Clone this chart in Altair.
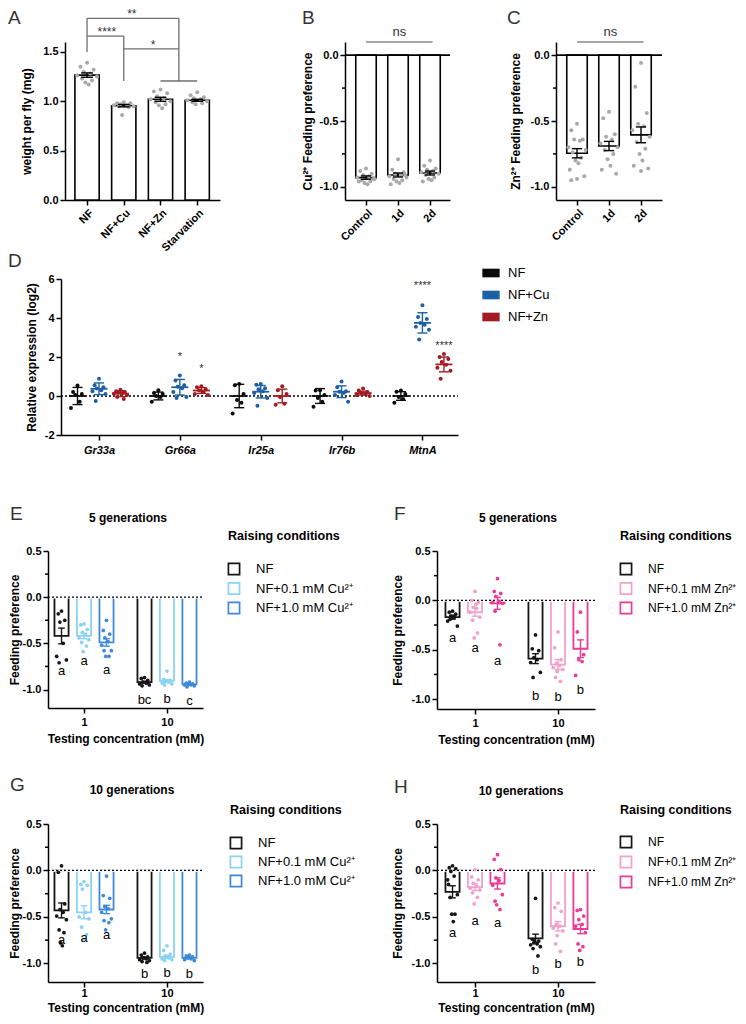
import json
import altair as alt
import pandas as pd

FONT = "Liberation Sans"
MINUS = "\u2212"
VIEW_W, VIEW_H = 730, 1008

# ======================= DATA =======================
# Panel A
A_groups = ["NF", "NF+Cu", "NF+Zn", "Starvation"]
A_means = [1.265, 0.955, 1.02, 1.01]
A_sems = [0.022, 0.012, 0.02, 0.01]
A_points = [
    [1.39, 1.35, 1.32, 1.30, 1.28, 1.26, 1.25, 1.23, 1.21, 1.19, 1.17],
    [0.99, 0.98, 0.98, 0.97, 0.96, 0.96, 0.95, 0.95, 0.94, 0.86],
    [1.12, 1.10, 1.08, 1.05, 1.03, 1.02, 1.00, 0.99, 0.97, 0.96, 0.93],
    [1.09, 1.06, 1.04, 1.03, 1.02, 1.01, 1.00, 0.99, 0.98, 0.97],
]
A_brackets_x1 = [0, 0, 2.5, 0, 1, 1, 2]
A_brackets_y1 = [1.84, 1.84, 1.84, 1.66, 1.66, 1.53, 1.205]
A_brackets_x2 = [2.5, 0, 2.5, 1, 1, 2.5, 3]
A_brackets_y2 = [1.84, 1.50, 1.205, 1.66, 1.205, 1.53, 1.205]
A_star_text = ["**", "****", "*"]
A_star_x = [1.22, 0.54, 1.8]
A_star_y = [1.84, 1.66, 1.53]

# Panels B, C
BC_groups = ["Control", "1d", "2d"]
B_means = [-0.93, -0.91, -0.895]
B_sems = [0.013, 0.015, 0.015]
B_points = [
    [-0.86, -0.88, -0.90, -0.91, -0.92, -0.93, -0.94, -0.95, -0.96, -0.97, -0.98, -0.96, -0.94],
    [-0.79, -0.87, -0.89, -0.90, -0.91, -0.92, -0.93, -0.94, -0.95, -0.96, -0.97, -0.98, -0.91],
    [-0.80, -0.84, -0.86, -0.87, -0.88, -0.89, -0.90, -0.91, -0.93, -0.94, -0.95, -0.96],
]
C_means = [-0.745, -0.69, -0.605]
C_sems = [0.035, 0.035, 0.06]
C_points = [
    [-0.52, -0.57, -0.64, -0.64, -0.65, -0.70, -0.72, -0.74, -0.78, -0.80, -0.82, -0.87, -0.92, -0.94, -0.95],
    [-0.43, -0.48, -0.60, -0.62, -0.64, -0.67, -0.70, -0.72, -0.75, -0.79, -0.84, -0.87, -0.90],
    [-0.06, -0.24, -0.44, -0.52, -0.54, -0.57, -0.62, -0.66, -0.71, -0.75, -0.80, -0.84, -0.86, -0.88],
]

# Panel D
D_genes = ["Gr33a", "Gr66a", "Ir25a", "Ir76b", "MtnA"]
D_conds = ["NF", "NF+Cu", "NF+Zn"]
D_colors = ["#0b0b0b", "#1c61a6", "#a21d23"]
D_means = [[0.0, 0.37, 0.12], [0.0, 0.45, 0.28], [0.0, 0.22, 0.0], [0.0, 0.22, 0.15], [0.0, 3.75, 1.62]]
D_sds = [[0.44, 0.30, 0.15], [0.20, 0.40, 0.15], [0.60, 0.32, 0.35], [0.38, 0.30, 0.10], [0.22, 0.52, 0.38]]
D_points = [
    [[0.54, 0.20, 0.10, 0.05, -0.30, -0.62], [0.88, 0.55, 0.45, 0.38, 0.30, 0.25, 0.10, -0.25],
     [0.32, 0.25, 0.20, 0.18, 0.15, 0.12, 0.05, -0.05, -0.15]],
    [[0.30, 0.15, 0.10, 0.0, -0.05, -0.30], [1.05, 0.80, 0.55, 0.48, 0.40, 0.20, -0.05, -0.10],
     [0.50, 0.45, 0.35, 0.28, 0.20, 0.10, 0.05]],
    [[0.62, 0.55, 0.10, -0.20, -0.35, -0.90], [0.62, 0.58, 0.40, 0.35, 0.25, 0.15, -0.10, -0.50],
     [0.50, 0.30, 0.10, -0.05, -0.40, -0.45]],
    [[0.30, 0.28, 0.05, -0.10, -0.30, -0.55], [0.75, 0.45, 0.25, 0.22, 0.15, 0.05, -0.30],
     [0.38, 0.28, 0.20, 0.15, 0.10, 0.05, 0.0]],
    [[0.28, 0.22, 0.10, -0.05, -0.15, -0.35], [4.65, 4.05, 3.95, 3.75, 3.65, 3.55, 3.40, 2.90],
     [2.15, 2.00, 1.90, 1.75, 1.60, 1.45, 1.30, 0.88]],
]
D_star_text = ["*", "*", "****", "****"]
D_star_gene = [1, 1, 4, 4]
D_star_cond = [1, 2, 1, 2]
D_star_y = [1.87, 1.23, 5.48, 2.43]

# Panels E-H
conc_labels = ["1", "10"]
Cu_conds = ["NF", "NF+0.1 mM Cu\u00b2\u207a", "NF+1.0 mM Cu\u00b2\u207a"]
Cu_colors = ["#151515", "#8ad3f4", "#3f8ad6"]
Zn_conds = ["NF", "NF+0.1 mM Zn\u00b2\u207a", "NF+1.0 mM Zn\u00b2\u207a"]
Zn_colors = ["#151515", "#f2a2ca", "#ec3a95"]

E_means = [-0.42, -0.42, -0.49, -0.92, -0.905, -0.945]
E_sems = [0.085, 0.03, 0.04, 0.01, 0.01, 0.006]
E_points = [
    [-0.15, -0.18, -0.25, -0.27, -0.50, -0.64, -0.68, -0.71],
    [-0.29, -0.30, -0.35, -0.38, -0.41, -0.44, -0.46, -0.49, -0.53, -0.59],
    [-0.25, -0.36, -0.40, -0.44, -0.48, -0.52, -0.58, -0.58, -0.64, -0.64],
    [-0.87, -0.88, -0.90, -0.92, -0.93, -0.94, -0.95, -0.96, -0.93],
    [-0.80, -0.89, -0.90, -0.91, -0.92, -0.93, -0.94, -0.95],
    [-0.92, -0.93, -0.94, -0.94, -0.95, -0.95, -0.96, -0.97],
]
E_letters = ["a", "a", "a", "bc", "b", "c"]
E_letter_y = [-0.80, -0.69, -0.79, -1.11, -1.10, -1.12]

F_means = [-0.17, -0.12, -0.03, -0.59, -0.65, -0.49]
F_sems = [0.02, 0.04, 0.06, 0.05, 0.05, 0.09]
F_points = [
    [-0.11, -0.12, -0.14, -0.16, -0.17, -0.21, -0.26, -0.19],
    [0.09, 0.00, -0.02, -0.07, -0.08, -0.12, -0.17, -0.20, -0.33, -0.38, -0.04],
    [0.22, 0.09, 0.07, 0.04, -0.01, -0.02, -0.03, -0.11, -0.45],
    [-0.35, -0.49, -0.51, -0.58, -0.60, -0.63, -0.73, -0.78],
    [-0.32, -0.48, -0.60, -0.64, -0.66, -0.68, -0.70, -0.78, -0.82, -0.72],
    [-0.12, -0.32, -0.55, -0.60, -0.62, -0.76],
]
F_letters = ["a", "a", "a", "b", "b", "b"]
F_letter_y = [-0.38, -0.48, -0.61, -0.97, -0.98, -0.91]

G_means = [-0.43, -0.45, -0.42, -0.94, -0.93, -0.94]
G_sems = [0.08, 0.07, 0.045, 0.01, 0.015, 0.01]
G_points = [
    [0.05, -0.02, -0.36, -0.42, -0.45, -0.49, -0.53, -0.64, -0.67, -0.78, -0.81],
    [-0.12, -0.15, -0.16, -0.20, -0.45, -0.50, -0.52, -0.61, -0.69, -0.74],
    [-0.06, -0.27, -0.30, -0.39, -0.41, -0.45, -0.52, -0.54, -0.56, -0.64],
    [-0.89, -0.91, -0.93, -0.94, -0.95, -0.96, -0.97, -0.98, -0.99, -0.94],
    [-0.81, -0.86, -0.90, -0.92, -0.94, -0.95, -0.96, -0.97],
    [-0.91, -0.92, -0.93, -0.94, -0.95, -0.96, -0.97, -0.93],
]
G_letters = ["a", "a", "a", "b", "b", "b"]
G_letter_y = [-0.75, -0.73, -0.69, -1.11, -1.10, -1.11]

H_means = [-0.23, -0.18, -0.14, -0.73, -0.60, -0.63]
H_sems = [0.065, 0.035, 0.06, 0.045, 0.05, 0.05]
H_points = [
    [0.05, 0.03, 0.02, -0.01, -0.06, -0.10, -0.26, -0.29, -0.47, -0.47, -0.55, -0.15],
    [0.01, -0.07, -0.10, -0.14, -0.17, -0.19, -0.21, -0.24, -0.29, -0.36],
    [0.17, 0.12, 0.01, -0.08, -0.11, -0.16, -0.26, -0.33, -0.42, -0.37],
    [-0.30, -0.74, -0.76, -0.78, -0.79, -0.80, -0.82, -0.84, -0.92, -0.76],
    [-0.35, -0.40, -0.44, -0.58, -0.60, -0.62, -0.65, -0.79, -0.87, -0.70],
    [-0.42, -0.43, -0.49, -0.53, -0.58, -0.60, -0.67, -0.79, -0.82, -0.86],
]
H_letters = ["a", "a", "a", "b", "b", "b"]
H_letter_y = [-0.67, -0.54, -0.57, -1.07, -1.01, -0.99]

# ======================= HELPERS =======================
ONE = pd.DataFrame({"k": [0]})
JIT = [0.0, -0.6, 0.6, -0.3, 0.3, -0.9, 0.9, -0.45, 0.45, -0.15, 0.15, -0.75, 0.75]


def num_label(fmt):
    return f"replace(format(datum.value, '{fmt}'), '{MINUS}', '-')"


def cat_label(labels):
    return f"{json.dumps(labels, ensure_ascii=False)}[datum.value]"


def make_enc(xdom, xrng, xaxis_kw, ydom, yrng, yaxis_kw):
    """Each panel has its own x/y scales; pixel ranges place the panel inside the single view."""
    xaxis = alt.Axis(orient="bottom", offset=-(VIEW_H - yrng[0]), **xaxis_kw)
    yaxis = alt.Axis(orient="left", offset=-xrng[0], **yaxis_kw)

    def X(f):
        return alt.X(f"{f}:Q", scale=alt.Scale(domain=xdom, range=xrng, nice=False, zero=False), axis=xaxis)

    def Y(f):
        return alt.Y(f"{f}:Q", scale=alt.Scale(domain=ydom, range=yrng, nice=False, zero=False), axis=yaxis)
    return X, Y


def summary_df(centers, means, errs, hw, cw, conds=None):
    df = pd.DataFrame({"x": centers, "mean": means, "err": errs})
    df["lo"] = df["mean"] - df["err"]
    df["hi"] = df["mean"] + df["err"]
    df["xl"] = df["x"] - hw
    df["xr"] = df["x"] + hw
    df["cl"] = df["x"] - cw
    df["cr"] = df["x"] + cw
    df["zero"] = 0.0
    if conds is not None:
        df["cond"] = conds
    return df


def points_df(centers, groups, spread, conds=None):
    rows = []
    for k, (cx, vals) in enumerate(zip(centers, groups)):
        for i, v in enumerate(vals):
            r = {"x": cx + JIT[i % len(JIT)] * spread, "v": v}
            if conds is not None:
                r["cond"] = conds[k]
            rows.append(r)
    return pd.DataFrame(rows)


def ptext(text, x, y, size=12, weight="normal", align="left", baseline="top", color="black"):
    return alt.Chart(ONE).mark_text(
        text=text, align=align, baseline=baseline, fontSize=size, fontWeight=weight,
        color=color, font=FONT
    ).encode(x=alt.value(x), y=alt.value(y))


def letter(t, x, y):
    return ptext(t, x, y, size=19, color="#333333")


def minor_ticks(Y, x0, vals):
    return alt.Chart(pd.DataFrame({"m": vals})).mark_rule(color="black", strokeWidth=1.5).encode(
        y=Y("m"), x=alt.value(x0 - 3), x2=alt.value(x0))


def zero_line(Y, x0, x1, dotted):
    d = pd.DataFrame({"z": [0.0]})
    if dotted:
        w = alt.Chart(d).mark_rule(color="white", strokeWidth=2.5).encode(
            y=Y("z"), x=alt.value(x0 + 1), x2=alt.value(x1))
        k = alt.Chart(d).mark_rule(color="black", strokeWidth=1.3, strokeDash=[2, 2]).encode(
            y=Y("z"), x=alt.value(x0), x2=alt.value(x1))
        return [w, k]
    return [alt.Chart(d).mark_rule(color="black", strokeWidth=1.6).encode(
        y=Y("z"), x=alt.value(x0), x2=alt.value(x1))]


def gray_bar_layers(X, Y, sdf, pdf):
    bars = alt.Chart(sdf).mark_bar(fill="white", stroke="black", strokeWidth=1.6).encode(
        x=X("xl"), x2="xr", y=Y("mean"), y2="zero")
    pts = alt.Chart(pdf).mark_circle(size=16, color="#a9a9a9", opacity=1).encode(x=X("x"), y=Y("v"))
    err = alt.Chart(sdf).mark_rule(color="black", strokeWidth=1.4).encode(x=X("x"), y=Y("lo"), y2="hi")
    c1 = alt.Chart(sdf).mark_rule(color="black", strokeWidth=1.4).encode(x=X("cl"), x2="cr", y=Y("hi"))
    c2 = alt.Chart(sdf).mark_rule(color="black", strokeWidth=1.4).encode(x=X("cl"), x2="cr", y=Y("lo"))
    return bars, [pts, err, c1, c2]


# ======================= PANEL A =======================
def panel_A():
    xr, yr = [57, 212], [191, 33]
    X, Y = make_enc([-0.6, 3.62], xr,
                    dict(values=list(range(len(A_groups))), labelExpr=cat_label(A_groups), labelAngle=-45,
                         title=None),
                    [0, 1.6], yr,
                    dict(values=[0.0, 0.5, 1.0, 1.5], labelExpr=num_label(".1f"), title="weight per fly (mg)",
                         titlePadding=9))
    sdf = summary_df(list(range(4)), A_means, A_sems, 0.33, 0.16)
    pdf = points_df(list(range(4)), A_points, 0.3)
    bars, rest = gray_bar_layers(X, Y, sdf, pdf)
    bdf = pd.DataFrame({"bx1": A_brackets_x1, "by1": A_brackets_y1, "bx2": A_brackets_x2, "by2": A_brackets_y2})
    br = alt.Chart(bdf).mark_rule(color="#6f6f6f", strokeWidth=1.3).encode(
        x=X("bx1"), x2="bx2", y=Y("by1"), y2="by2")
    sdf2 = pd.DataFrame({"st": A_star_text, "sx": A_star_x, "sy": A_star_y})
    st = alt.Chart(sdf2).mark_text(fontSize=12, color="#333333", align="center", baseline="alphabetic",
                                   font=FONT).encode(x=X("sx"), y=Y("sy"), text="st:N")
    return alt.layer(bars, *rest, br, st, letter("A", 0, 0))


# ======================= PANELS B, C =======================
def panel_pref(tag, lx, ytitle, ytp, means, sems, points, xr, xdom):
    yr = [191, 33]
    X, Y = make_enc(xdom, xr,
                    dict(values=[0, 1, 2], labelExpr=cat_label(BC_groups), labelAngle=-45, title=None),
                    [-1.1, 0.1], yr,
                    dict(values=[0.0, -0.5, -1.0], labelExpr=num_label(".1f"), title=ytitle, titlePadding=ytp))
    sdf = summary_df([0, 1, 2], means, sems, 0.32, 0.16)
    pdf = points_df([0, 1, 2], points, 0.3)
    bars, rest = gray_bar_layers(X, Y, sdf, pdf)
    ns = alt.Chart(pd.DataFrame({"a": [0.0], "b": [2.08], "y": [0.1]})).mark_rule(
        color="#8a8a8a", strokeWidth=1.5).encode(x=X("a"), x2="b", y=Y("y"))
    nst = alt.Chart(pd.DataFrame({"x": [1.04], "y": [0.145], "t": ["ns"]})).mark_text(
        fontSize=13, color="#333333", align="center", baseline="alphabetic", font=FONT).encode(
        x=X("x"), y=Y("y"), text="t:N")
    return alt.layer(bars, *zero_line(Y, xr[0], xr[1], False), *rest, ns, nst,
                     minor_ticks(Y, xr[0], [-0.25, -0.75]), letter(tag, lx, 0))


# ======================= PANEL D =======================
def panel_D():
    xr, yr = [53, 450], [426, 270]
    X, Y = make_enc([-0.47, 4.44], xr,
                    dict(values=list(range(len(D_genes))), labelExpr=cat_label(D_genes), labelAngle=0,
                         labelFontStyle="italic", title=None, labelPadding=4),
                    [-2, 6], yr,
                    dict(values=[-2, 0, 2, 4, 6], labelExpr=num_label("d"), title="Relative expression (log2)",
                         titlePadding=6))
    centers, conds, means, sds, pts = [], [], [], [], []
    for g in range(len(D_genes)):
        for c in range(len(D_conds)):
            centers.append(g + (c - 1) * 0.266)
            conds.append(D_conds[c])
            means.append(D_means[g][c])
            sds.append(D_sds[g][c])
            pts.append(D_points[g][c])
    sdf = summary_df(centers, means, sds, 0.105, 0.062, conds)
    pdf = points_df(centers, pts, 0.09, conds)
    cscale = alt.Scale(domain=D_conds, range=D_colors)
    col = alt.Color("cond:N", scale=cscale, legend=None)
    leg = alt.Legend(orient="none", legendX=474, legendY=255, title=None,
                     symbolType="M-1,-0.5H1V0.5H-1Z", symbolSize=300, symbolStrokeWidth=0,
                     labelFontSize=13, labelFontWeight="normal", labelOffset=8, rowPadding=6, padding=0)
    zl = alt.Chart(pd.DataFrame({"z": [0.0]})).mark_rule(color="black", strokeWidth=1.3, strokeDash=[2, 2]).encode(
        y=Y("z"), x=alt.value(xr[0]), x2=alt.value(xr[1]))
    p = alt.Chart(pdf).mark_circle(size=16, opacity=1).encode(
        x=X("x"), y=Y("v"), fill=alt.Fill("cond:N", scale=cscale, legend=leg))
    err = alt.Chart(sdf).mark_rule(strokeWidth=1.4).encode(x=X("x"), y=Y("lo"), y2="hi", color=col)
    c1 = alt.Chart(sdf).mark_rule(strokeWidth=1.4).encode(x=X("cl"), x2="cr", y=Y("hi"), color=col)
    c2 = alt.Chart(sdf).mark_rule(strokeWidth=1.4).encode(x=X("cl"), x2="cr", y=Y("lo"), color=col)
    mn = alt.Chart(sdf).mark_rule(strokeWidth=1.8).encode(x=X("xl"), x2="xr", y=Y("mean"), color=col)
    sx = [g + (c - 1) * 0.266 for g, c in zip(D_star_gene, D_star_cond)]
    st = alt.Chart(pd.DataFrame({"x": sx, "y": D_star_y, "t": D_star_text})).mark_text(
        fontSize=11, color="#333333", align="center", baseline="alphabetic", font=FONT).encode(
        x=X("x"), y=Y("y"), text="t:N")
    return alt.layer(zl, p, err, c1, c2, mn, st, letter("D", 0, 243))


# ======================= PANELS E-H =======================
def panel_gen(tag, lxy, title, txy, conds, colors, means, sems, points, letters, letter_y,
              ydom, xr, yr, xdom, ytp, xlp, xtp):
    X, Y = make_enc(xdom, xr,
                    dict(values=[0, 1], labelExpr=cat_label(conc_labels), labelAngle=0,
                         title="Testing concentration (mM)", labelPadding=xlp, titlePadding=xtp),
                    ydom, yr,
                    dict(values=[0.5, 0.0, -0.5, -1.0], labelExpr=num_label(".1f"), title="Feeding preference",
                         titlePadding=ytp))
    centers, cc = [], []
    for g in range(2):
        for c in range(3):
            centers.append(g + (c - 1) * 0.271)
            cc.append(conds[c])
    sdf = summary_df(centers, means, sems, 0.085, 0.04, cc)
    sdf["letter"] = letters
    sdf["ly"] = letter_y
    pdf = points_df(centers, points, 0.065, cc)
    cscale = alt.Scale(domain=conds, range=colors)
    col = alt.Color("cond:N", scale=cscale, legend=None)
    bars = alt.Chart(sdf).mark_bar(filled=False, strokeWidth=1.8).encode(
        x=X("xl"), x2="xr", y=Y("mean"), y2="zero", color=col)
    p = alt.Chart(pdf).mark_circle(size=14, opacity=1).encode(x=X("x"), y=Y("v"), color=col)
    err = alt.Chart(sdf).mark_rule(strokeWidth=1.4).encode(x=X("x"), y=Y("lo"), y2="hi", color=col)
    c1 = alt.Chart(sdf).mark_rule(strokeWidth=1.4).encode(x=X("cl"), x2="cr", y=Y("hi"), color=col)
    c2 = alt.Chart(sdf).mark_rule(strokeWidth=1.4).encode(x=X("cl"), x2="cr", y=Y("lo"), color=col)
    lt = alt.Chart(sdf).mark_text(fontSize=13, color="black", align="center", baseline="middle", font=FONT).encode(
        x=X("x"), y=Y("ly"), text="letter:N")
    return alt.layer(bars, *zero_line(Y, xr[0], xr[1], True), p, err, c1, c2, lt,
                     minor_ticks(Y, xr[0], [0.25, -0.25, -0.75]),
                     ptext(title, txy[0], txy[1], size=12, weight="bold", align="center", baseline="middle"),
                     letter(tag, lxy[0], lxy[1]))


def legend_block(title, conds, colors, sq_x, lab_x, rows_y, title_y, label_size):
    """Hollow-square key: entries placed by a point scale over the given pixel span."""
    df = pd.DataFrame({"cond": conds})
    cscale = alt.Scale(domain=conds, range=colors)
    yenc = alt.Y("cond:N", scale=alt.Scale(domain=conds, range=rows_y, padding=0), axis=None)
    sq = alt.Chart(df).mark_point(shape="square", filled=False, size=125, strokeWidth=1.7, opacity=1).encode(
        x=alt.value(sq_x), y=yenc, color=alt.Color("cond:N", scale=cscale, legend=None))
    tx = alt.Chart(df).mark_text(align="left", baseline="middle", fontSize=label_size, font=FONT,
                                 color="black").encode(x=alt.value(lab_x), y=yenc, text="cond:N")
    tt = ptext(title, sq_x - 6, title_y, size=12.5, weight="bold", baseline="middle")
    return alt.layer(sq, tx, tt)


A = panel_A()
B = panel_pref("B", 294, "Cu\u00b2\u207a Feeding preference", 5, B_means, B_sems, B_points, [337, 442],
               [-0.656, 2.625])
C = panel_pref("C", 499, "Zn\u00b2\u207a Feeding preference", 8, C_means, C_sems, C_points, [548, 654],
               [-0.656, 2.656])
D = panel_D()
E = panel_gen("E", (2, 496), "5 generations", (120, 509), Cu_conds, Cu_colors, E_means, E_sems, E_points,
              E_letters, E_letter_y, [-1.2, 0.5], [40, 195], [699, 542], [-0.434, 1.434], 1, 3, 6)
F = panel_gen("F", (386, 496), "5 generations", (510, 509), Zn_conds, Zn_colors, F_means, F_sems, F_points,
              F_letters, F_letter_y, [-1.1, 0.5], [429, 587], [700, 542], [-0.458, 1.446], 7, 3, 6)
G = panel_gen("G", (2, 767), "10 generations", (124, 781), Cu_conds, Cu_colors, G_means, G_sems, G_points,
              G_letters, G_letter_y, [-1.2, 0.5], [40, 195], [973, 815], [-0.434, 1.434], 1, 0, 4)
Hh = panel_gen("H", (386, 769), "10 generations", (513, 782), Zn_conds, Zn_colors, H_means, H_sems, H_points,
               H_letters, H_letter_y, [-1.2, 0.5], [429, 587], [973, 815], [-0.458, 1.446], 7, 0, 4)

LE = legend_block("Raising conditions", Cu_conds, Cu_colors, 226, 248, [560, 599], 527, 13)
LF = legend_block("Raising conditions", Zn_conds, Zn_colors, 618, 640, [560, 599], 527, 12)
LG = legend_block("Raising conditions", Cu_conds, Cu_colors, 228, 250, [834, 872], 801, 13)
LH = legend_block("Raising conditions", Zn_conds, Zn_colors, 618, 640, [833, 873], 801, 12)

chart = alt.layer(A, B, C, D, E, F, G, Hh, LE, LF, LG, LH).resolve_scale(
    x="independent", y="independent", color="independent", fill="independent"
).properties(width=VIEW_W, height=VIEW_H, padding=0)

chart = chart.configure(font=FONT).configure_view(stroke=None).configure_axis(
    labelFont=FONT, titleFont=FONT, labelFontSize=11, labelFontWeight="bold", titleFontSize=12,
    titleFontWeight="bold", labelColor="black", titleColor="black", domainColor="black", tickColor="black",
    domainWidth=1.5, tickWidth=1.5, tickSize=5, labelPadding=2, grid=False, labelFlush=False,
    labelOverlap=False
).configure_legend(labelFont=FONT, titleFont=FONT, labelColor="black", titleColor="black")

chart.save("out.html", embed_options={"renderer": "svg", "actions": False})
